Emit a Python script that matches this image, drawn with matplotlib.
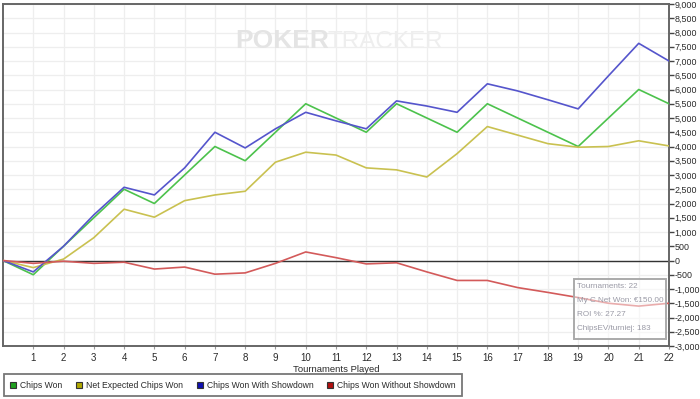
import matplotlib
matplotlib.use("Agg")
import matplotlib.pyplot as plt
from matplotlib.lines import Line2D
from matplotlib.patches import Rectangle
from matplotlib.ticker import FuncFormatter, MultipleLocator

tournaments = list(range(0, 23))
chips_won = [0, -500, 500, 1500, 2500, 2000, 3000, 4000, 3500, 4500, 5500, 5000,
             4500, 5500, 5000, 4500, 5500, 5000, 4500, 4000, 5000, 6000, 5500]
net_expected = [0, -250, 50, 800, 1800, 1520, 2100, 2300, 2430, 3450, 3800, 3700,
                3250, 3180, 2930, 3750, 4700, 4400, 4100, 3975, 4000, 4200, 4020]
with_showdown = [0, -400, 500, 1600, 2570, 2300, 3250, 4500, 3950, 4620, 5200, 4900,
                 4620, 5600, 5420, 5200, 6200, 5950, 5640, 5320, 6480, 7620, 7000]
without_showdown = [0, -100, -25, -100, -60, -300, -230, -480, -435, -100, 300, 100,
                    -120, -80, -400, -700, -700, -950, -1120, -1300, -1500, -1600, -1500]

series_names = ["Chips Won", "Net Expected Chips Won", "Chips Won With Showdown",
                "Chips Won Without Showdown"]
line_colors = ["#4cc24c", "#c9c150", "#5555cc", "#d35a5a"]
marker_colors = ["#1fa01f", "#b0a800", "#1010b0", "#b01010"]
info_lines = ["Tournaments: 22", "My C Net Won: \u20ac150.00", "ROI %: 27.27",
              "ChipsEV/turniej: 183"]

plt.rcParams["font.family"] = ["Liberation Sans", "DejaVu Sans"]

W, H = 700, 399


def fx(px):
    return px / W


def fy(py):
    return 1 - py / H


fig = plt.figure(figsize=(7.0, 3.99), dpi=100)
ax = fig.add_axes([fx(3), fy(346), (669 - 3) / W, (346 - 4) / H])

for s in ax.spines.values():
    s.set_color("#666666")
    s.set_linewidth(1.4)

ax.set_xlim(0, 22)
ax.set_ylim(-3000, 9000)
ax.yaxis.set_major_locator(MultipleLocator(500))
ax.set_xticks(range(1, 23))
ax.grid(True, color="#eeeeee", linewidth=0.9)
ax.set_axisbelow(True)
ax.axhline(0, color="#333333", linewidth=1.0, zorder=2)

for vals, c in zip([chips_won, net_expected, with_showdown, without_showdown], line_colors):
    ax.plot(tournaments, vals, color=c, linewidth=1.2, zorder=3)

ax.yaxis.tick_right()
ax.yaxis.set_major_formatter(FuncFormatter(lambda v, p: f"{int(v):,}"))
ax.tick_params(axis="y", direction="out", length=3.5, width=1, color="#444444",
               labelsize=6.4, labelcolor="#2a2a2a", pad=0.6)
ax.tick_params(axis="x", direction="out", length=2, width=0.8, color="#999999",
               labelsize=7, labelcolor="#2a2a2a", pad=3)
ax.set_xlabel("Tournaments Played", fontsize=6.8, color="#2a2a2a", labelpad=1.5)

# watermark
fig.text(fx(235), fy(48), "POKER", fontsize=19, fontweight="bold",
         color="#e4e4e4", ha="left", va="baseline", zorder=0)
fig.text(fx(327), fy(48), "TRACKER", fontsize=17.5, color="#eeeeee",
         ha="left", va="baseline", zorder=0)

# info box
fig.patches.append(Rectangle((fx(574), fy(339)), (666 - 574) / W, (339 - 279) / H,
                             transform=fig.transFigure, facecolor=(1, 1, 1, 0.5),
                             edgecolor="#aaaaaa", linewidth=1.4, zorder=5))
for line, py in zip(info_lines, [287, 301, 315, 329]):
    fig.text(fx(577), fy(py), line, fontsize=5.9, color="#9a9aa6",
             ha="left", va="center", zorder=6)

handles = [Line2D([], [], linestyle="none", marker="s", markersize=5,
                  markerfacecolor=mc, markeredgecolor="#333333", markeredgewidth=0.8)
           for mc in marker_colors]
leg = fig.legend(handles, series_names, loc="lower left",
                 bbox_to_anchor=(fx(3.5), fy(396)), ncol=4, fontsize=6.2,
                 frameon=True, fancybox=False, handlelength=0.8, handletextpad=0.4,
                 columnspacing=1.55, borderpad=0.75, borderaxespad=0)
leg.get_frame().set_edgecolor("#555555")
leg.get_frame().set_linewidth(1.3)
for t in leg.get_texts():
    t.set_color("#2a2a2a")

fig.savefig("out.png", dpi=100)
